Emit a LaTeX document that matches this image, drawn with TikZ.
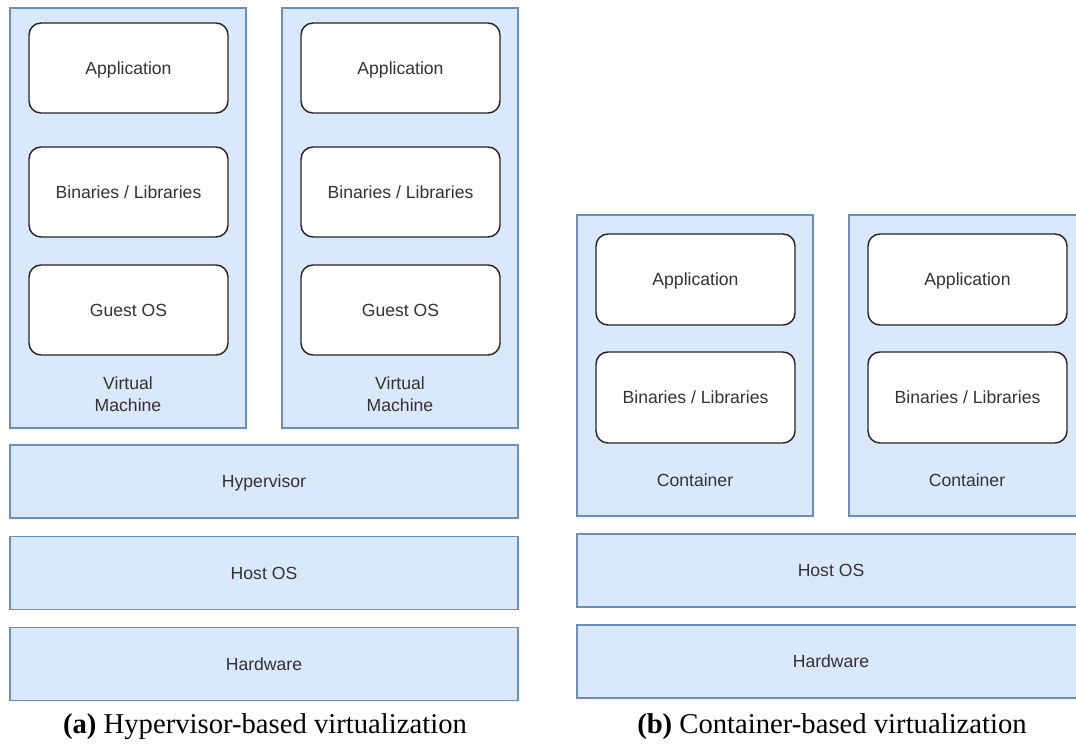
\documentclass[tikz,border=0pt]{standalone}
\usepackage{fontspec}
\setmainfont{Liberation Serif}
\newfontfamily\boxfont{Liberation Sans}
\usepackage{tikz}

\definecolor{layerfill}{HTML}{DAE8FC}
\definecolor{layerdraw}{HTML}{6C8EBF}
\definecolor{labeltext}{HTML}{333333}
\newcommand{\px}{0.75pt}

\tikzset{
    layer/.style={draw=layerdraw, fill=layerfill, line width=1.1pt, rectangle,
        minimum width=508*\px, minimum height=73*\px, inner sep=0pt, text depth=0pt,
        font=\boxfont\fontsize{13.2}{16}\selectfont, text=labeltext},
    guest/.style={layer, minimum width=236*\px},
    part/.style={draw=black!85, fill=white, line width=1.1pt, rounded corners=9pt,
        minimum width=199*\px, minimum height=90*\px, inner sep=0pt, text depth=0pt,
        font=\boxfont\fontsize{13.2}{16}\selectfont, text=labeltext},
    tag/.style={align=center, font=\boxfont\fontsize{13.2}{16.5}\selectfont, text=labeltext},
    caption/.style={font=\fontsize{21.5}{25}\selectfont}
}

\begin{document}
\begin{tikzpicture}[x=0.75pt, y=-0.75pt]
    \useasboundingbox (0, 0) rectangle (1076, 747);
    \clip (0, 0) rectangle (1076, 747);

    % hypervisor-based
    \foreach \i/\cx in {1/128, 2/400} {
        \node[guest, minimum height=420*\px] (vm\i) at (\cx, 218) {};
        \node[part] (vmapp\i) at (\cx + 0.5, 68) {Application};
        \node[part] (vmbin\i) at (\cx + 0.5, 192) {Binaries / Libraries};
        \node[part] (vmos\i) at (\cx + 0.5, 310) {Guest OS};
        \node[tag] (vmtag\i) at (\cx, 394) {Virtual\\Machine};
    }
    \node[layer] (hyper) at (264, 481.5) {Hypervisor};
    \node[layer] (hostA) at (264, 573) {Host OS};
    \node[layer] (hwA) at (264, 664) {Hardware};
    \node[caption] (capA) at (265, 727) {\textbf{(a)} Hypervisor-based virtualization};

    % container-based
    \foreach \i/\cx in {1/695, 2/967} {
        \node[guest, minimum height=301*\px] (ct\i) at (\cx, 365.5) {};
        \node[part, minimum height=91*\px] (ctapp\i) at (\cx + 0.5, 279.5) {Application};
        \node[part, minimum height=91*\px] (ctbin\i) at (\cx + 0.5, 397.5) {Binaries / Libraries};
        \node[tag] (cttag\i) at (\cx, 480) {Container};
    }
    \node[layer] (hostB) at (831, 570.5) {Host OS};
    \node[layer] (hwB) at (831, 661.5) {Hardware};
    \node[caption] (capB) at (832, 727) {\textbf{(b)} Container-based virtualization};
\end{tikzpicture}
\end{document}
